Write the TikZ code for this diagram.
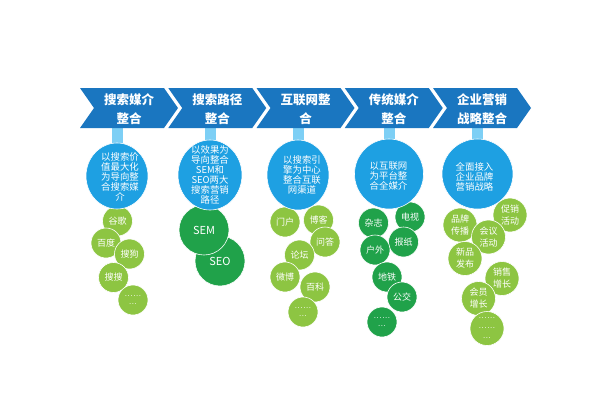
\documentclass[tikz,border=0pt]{standalone}
\usepackage{fontspec}
\usetikzlibrary{shapes.geometric}
\setmainfont{Noto Sans CJK SC}
\newfontfamily\dotfont{DejaVu Sans}
\newcommand{\dotsix}{{\dotfont .\hspace{0.6pt}.\hspace{0.6pt}.\hspace{0.6pt}.\hspace{0.6pt}.\hspace{0.6pt}.}}
\newcommand{\dotthree}{{\dotfont .\hspace{0.6pt}.\hspace{0.6pt}.}}
\definecolor{chevblue}{RGB}{26,118,192}
\definecolor{bigblue}{RGB}{30,160,226}
\definecolor{stemblue}{RGB}{125,207,245}
\definecolor{lgreen}{RGB}{141,197,66}
\definecolor{dgreen}{RGB}{32,162,74}
\tikzset{
  chevron/.style={fill=chevblue},
  chevtext/.style={text=white,font=\fontsize{12.5}{19}\selectfont\bfseries,align=center,inner sep=0pt},
  stembar/.style={fill=stemblue},
  bigcirc/.style={ellipse,fill=bigblue,draw=white,line width=0.6pt,inner sep=0pt},
  bigtext/.style={text=white,font=\fontsize{9.4}{10}\selectfont,align=center,inner sep=0pt},
  lgc/.style={circle,fill=lgreen,draw=white,line width=0.6pt,minimum size=30pt,inner sep=0pt,text=white,font=\fontsize{9}{11}\selectfont,align=center},
  dgc/.style={circle,fill=dgreen,draw=white,line width=0.6pt,minimum size=30pt,inner sep=0pt,text=white,font=\fontsize{9}{11}\selectfont,align=center},
  lgc5/.style={lgc,minimum size=34pt,font=\fontsize{9}{12}\selectfont},
  seoc/.style={dgc,minimum size=50pt,font=\fontsize{11}{13}\selectfont},
  dotsty/.style={font=\fontsize{7}{8}\selectfont}
}
\begin{document}
\begin{tikzpicture}[x=1pt,y=-1pt]
\useasboundingbox (0,0) rectangle (605,408);
\fill[white] (0,0) rectangle (605,408);

% stems
\fill[stembar] (111.5,126) rectangle (122.5,160);
\fill[stembar] (204.5,126) rectangle (215.5,160);
\fill[stembar] (292.5,126) rectangle (303.5,160);
\fill[stembar] (383.5,126) rectangle (394.5,160);
\fill[stembar] (472,126) rectangle (483,160);

% chevrons
\foreach \x in {80,168.25,256.5,344.75,433}{
  \fill[chevron] (\x,88) -- ++(84,0) -- ++(14,20) -- ++(-14,20) -- ++(-84,0) -- ++(14,-20) -- cycle;
}
\node[chevtext] (h1) at (129,109.5) {搜索媒介\\整合};
\node[chevtext] (h2) at (217.25,109.5) {搜索路径\\整合};
\node[chevtext] (h3) at (305.5,109.5) {互联网整\\合};
\node[chevtext] (h4) at (393.75,109.5) {传统媒介\\整合};
\node[chevtext] (h5) at (482,109.5) {企业营销\\战略整合};

% column 1
\node[lgc] (a1) at (117.5,221) {谷歌};
\node[lgc] (a2) at (106,243) {百度};
\node[lgc] (a3) at (129.5,254) {搜狗};
\node[lgc] (a4) at (113.5,277.5) {搜搜};
\node[lgc,dotsty] (a5) at (133,300) {\dotsix\\\dotthree};

% column 2
\node[seoc] (b2) at (220,261) {SEO};
\node[seoc] (b1) at (204,230) {SEM};

% column 3
\node[lgc] (c1) at (285,222) {门户};
\node[lgc] (c2) at (318.5,220) {博客};
\node[lgc] (c3) at (325,242) {问答};
\node[lgc] (c4) at (299.5,255) {论坛};
\node[lgc] (c5) at (285,277) {微博};
\node[lgc] (c6) at (315,287) {百科};
\node[lgc,dotsty] (c7) at (303,312) {\dotsix\\\dotthree};

% column 4
\node[dgc] (d1) at (373.5,223) {杂志};
\node[dgc] (d2) at (410,217) {电视};
\node[dgc] (d3) at (403.5,242) {报纸};
\node[dgc] (d4) at (375,250) {户外};
\node[dgc] (d5) at (387,277) {地铁};
\node[dgc] (d6) at (402,297) {公交};
\node[dgc,dotsty] (d7) at (382,322) {\dotsix\\\dotthree};

% column 5
\node[lgc5] (e1) at (510,215) {促销\\活动};
\node[lgc5] (e2) at (460,225) {品牌\\传播};
\node[lgc5] (e3) at (488.5,237) {会议\\活动};
\node[lgc5] (e4) at (465,258.5) {新品\\发布};
\node[lgc5] (e5) at (502,278.5) {销售\\增长};
\node[lgc5] (e6) at (478.5,298.5) {会员\\增长};
\node[lgc5,dotsty,font=\fontsize{7}{10}\selectfont] (e7) at (487,328.5) {\dotsix\\\dotsix\\\dotthree};

% big circles
\node[bigcirc,minimum width=62pt,minimum height=66pt] (k1) at (117,176) {};
\node[bigcirc,minimum width=64pt,minimum height=70pt] (k2) at (210,175) {};
\node[bigcirc,minimum width=62pt,minimum height=70pt] (k3) at (298,175) {};
\node[bigcirc,minimum width=69pt,minimum height=70pt] (k4) at (389,174) {};
\node[bigcirc,minimum width=71pt,minimum height=70pt] (k5) at (477.5,174) {};

\node[bigtext] (t1) at (120,176.5) {以搜索价\\值最大化\\为导向整\\合搜索媒\\介};
\node[bigtext] (t2) at (210,175) {以效果为\\导向整合\\SEM和\\SEO两大\\搜索营销\\路径};
\node[bigtext] (t3) at (302,175) {以搜索引\\擎为中心\\整合互联\\网渠道};
\node[bigtext] (t4) at (388.5,176.5) {以互联网\\为平台整\\合全媒介};
\node[bigtext] (t5) at (474.5,176.5) {全面接入\\企业品牌\\营销战略};
\end{tikzpicture}
\end{document}
